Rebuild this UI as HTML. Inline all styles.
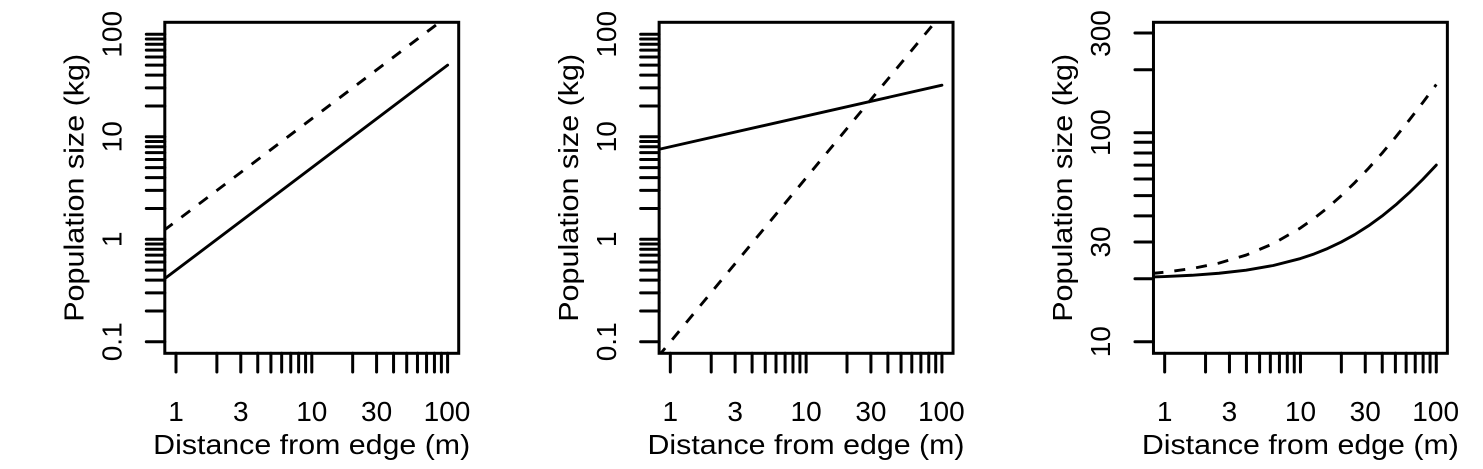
<!DOCTYPE html>
<html><head><meta charset="utf-8"><style>
html,body{margin:0;padding:0;background:#fff;}
svg{display:block;}
text{font-family:"Liberation Sans",Arial,sans-serif;fill:#000;}
</style></head><body>
<svg width="1483" height="469" viewBox="0 0 1483 469" xmlns="http://www.w3.org/2000/svg">
<defs>
<clipPath id="pc" clipPathUnits="userSpaceOnUse"><rect x="164.8" y="22.3" width="293.9" height="331"/></clipPath>
</defs>

<!-- PANEL 1 -->
<g>
<rect x="164.8" y="22.3" width="293.9" height="331" fill="none" stroke="#000" stroke-width="3"/>
<path fill="none" stroke="#000" stroke-width="3" stroke-linecap="round" d="M146.3 34.3H164.8M146.3 38.99H164.8M146.3 44.23H164.8M146.3 50.18H164.8M146.3 57.04H164.8M146.3 65.15H164.8M146.3 75.09H164.8M146.3 87.89H164.8M146.3 105.94H164.8M146.3 136.8H164.8M146.3 141.49H164.8M146.3 146.73H164.8M146.3 152.68H164.8M146.3 159.54H164.8M146.3 167.65H164.8M146.3 177.59H164.8M146.3 190.39H164.8M146.3 208.44H164.8M146.3 239.3H164.8M146.3 243.99H164.8M146.3 249.23H164.8M146.3 255.18H164.8M146.3 262.04H164.8M146.3 270.15H164.8M146.3 280.09H164.8M146.3 292.89H164.8M146.3 310.94H164.8M146.3 341.8H164.8"/>
<path fill="none" stroke="#000" stroke-width="3" stroke-linecap="round" d="M176 353.3V372M216.88 353.3V372M240.79 353.3V372M257.76 353.3V372M270.92 353.3V372M281.67 353.3V372M290.76 353.3V372M298.64 353.3V372M305.59 353.3V372M311.8 353.3V372M352.68 353.3V372M376.59 353.3V372M393.56 353.3V372M406.72 353.3V372M417.47 353.3V372M426.56 353.3V372M434.44 353.3V372M441.39 353.3V372M447.6 353.3V372"/>
<g clip-path="url(#pc)" fill="none" stroke="#000" stroke-width="2.9">
<path d="M163.8 279.4L447.6 65.15" stroke-linecap="round"/>
<path d="M163.8 230.5L447.6 16.25" stroke-dasharray="11 11"/>
</g>
<g font-size="28" text-anchor="middle">
<text x="176" y="421">1</text><text x="240.8" y="421">3</text><text x="311.8" y="421">10</text><text x="376.6" y="421">30</text><text x="447" y="421">100</text>
<text transform="translate(121.5,34.3) rotate(-90)">100</text>
<text transform="translate(121.5,136.8) rotate(-90)">10</text>
<text transform="translate(121.5,239.3) rotate(-90)">1</text>
<text transform="translate(121.5,341.8) rotate(-90)">0.1</text>
<text x="311.7" y="454" textLength="317" lengthAdjust="spacingAndGlyphs">Distance from edge (m)</text>
<text transform="translate(83.5,187.8) rotate(-90)" textLength="268" lengthAdjust="spacingAndGlyphs">Population size (kg)</text>
</g>
</g>

<!-- PANEL 2 -->
<g transform="translate(494.33,0)">
<rect x="164.8" y="22.3" width="293.9" height="331" fill="none" stroke="#000" stroke-width="3"/>
<path fill="none" stroke="#000" stroke-width="3" stroke-linecap="round" d="M146.3 34.3H164.8M146.3 38.99H164.8M146.3 44.23H164.8M146.3 50.18H164.8M146.3 57.04H164.8M146.3 65.15H164.8M146.3 75.09H164.8M146.3 87.89H164.8M146.3 105.94H164.8M146.3 136.8H164.8M146.3 141.49H164.8M146.3 146.73H164.8M146.3 152.68H164.8M146.3 159.54H164.8M146.3 167.65H164.8M146.3 177.59H164.8M146.3 190.39H164.8M146.3 208.44H164.8M146.3 239.3H164.8M146.3 243.99H164.8M146.3 249.23H164.8M146.3 255.18H164.8M146.3 262.04H164.8M146.3 270.15H164.8M146.3 280.09H164.8M146.3 292.89H164.8M146.3 310.94H164.8M146.3 341.8H164.8"/>
<path fill="none" stroke="#000" stroke-width="3" stroke-linecap="round" d="M176 353.3V372M216.88 353.3V372M240.79 353.3V372M257.76 353.3V372M270.92 353.3V372M281.67 353.3V372M290.76 353.3V372M298.64 353.3V372M305.59 353.3V372M311.8 353.3V372M352.68 353.3V372M376.59 353.3V372M393.56 353.3V372M406.72 353.3V372M417.47 353.3V372M426.56 353.3V372M434.44 353.3V372M441.39 353.3V372M447.6 353.3V372"/>
<g clip-path="url(#pc)" fill="none" stroke="#000" stroke-width="2.9">
<path d="M163.8 149.5L447.6 85.2" stroke-linecap="round"/>
<path d="M163.8 356.6L447.6 13.8" stroke-dasharray="11 11"/>
</g>
<g font-size="28" text-anchor="middle">
<text x="176" y="421">1</text><text x="240.8" y="421">3</text><text x="311.8" y="421">10</text><text x="376.6" y="421">30</text><text x="447" y="421">100</text>
<text transform="translate(121.5,34.3) rotate(-90)">100</text>
<text transform="translate(121.5,136.8) rotate(-90)">10</text>
<text transform="translate(121.5,239.3) rotate(-90)">1</text>
<text transform="translate(121.5,341.8) rotate(-90)">0.1</text>
<text x="311.7" y="454" textLength="317" lengthAdjust="spacingAndGlyphs">Distance from edge (m)</text>
<text transform="translate(83.5,187.8) rotate(-90)" textLength="268" lengthAdjust="spacingAndGlyphs">Population size (kg)</text>
</g>
</g>

<!-- PANEL 3 -->
<g transform="translate(988.67,0)">
<rect x="164.8" y="22.3" width="293.9" height="331" fill="none" stroke="#000" stroke-width="3"/>
<path fill="none" stroke="#000" stroke-width="3" stroke-linecap="round" d="M146.3 32.98H164.8M146.3 69.78H164.8M146.3 132.7H164.8M146.3 142.26H164.8M146.3 152.95H164.8M146.3 165.07H164.8M146.3 179.06H164.8M146.3 195.61H164.8M146.3 215.87H164.8M146.3 241.98H164.8M146.3 278.78H164.8M146.3 341.7H164.8"/>
<path fill="none" stroke="#000" stroke-width="3" stroke-linecap="round" d="M176 353.3V372M216.88 353.3V372M240.79 353.3V372M257.76 353.3V372M270.92 353.3V372M281.67 353.3V372M290.76 353.3V372M298.64 353.3V372M305.59 353.3V372M311.8 353.3V372M352.68 353.3V372M376.59 353.3V372M393.56 353.3V372M406.72 353.3V372M417.47 353.3V372M426.56 353.3V372M434.44 353.3V372M441.39 353.3V372M447.6 353.3V372"/>
<g clip-path="url(#pc)" fill="none" stroke="#000" stroke-width="2.9" stroke-linejoin="round">
<polyline stroke-linecap="round" points="163.8,276.95 176,276.53 203.2,275.26 230.3,273.25 257.5,270.16 284.6,265.5 311.8,258.54 325.4,253.94 339,248.49 352.5,242.07 366.1,234.55 379.7,225.91 393.3,216.09 406.9,205.06 420.4,192.85 434,179.5 447.6,165.07"/>
<polyline stroke-dasharray="11 11" points="163.8,273.42 176,272.23 203.2,268.59 230.3,263.12 257.5,255.07 284.6,243.62 311.8,227.98 325.4,218.42 339,207.69 352.5,195.75 366.1,182.65 379.7,168.48 393.3,153.29 406.9,137.17 420.4,120.29 434,102.71 447.6,84.55"/>
</g>
<g font-size="28" text-anchor="middle">
<text x="176" y="421">1</text><text x="240.8" y="421">3</text><text x="311.8" y="421">10</text><text x="376.6" y="421">30</text><text x="447" y="421">100</text>
<text transform="translate(121.5,33.5) rotate(-90)">300</text>
<text transform="translate(121.5,132.7) rotate(-90)">100</text>
<text transform="translate(121.5,241.98) rotate(-90)">30</text>
<text transform="translate(121.5,341.7) rotate(-90)">10</text>
<text x="311.7" y="454" textLength="317" lengthAdjust="spacingAndGlyphs">Distance from edge (m)</text>
<text transform="translate(83.5,187.8) rotate(-90)" textLength="268" lengthAdjust="spacingAndGlyphs">Population size (kg)</text>
</g>
</g>
</svg>
</body></html>
